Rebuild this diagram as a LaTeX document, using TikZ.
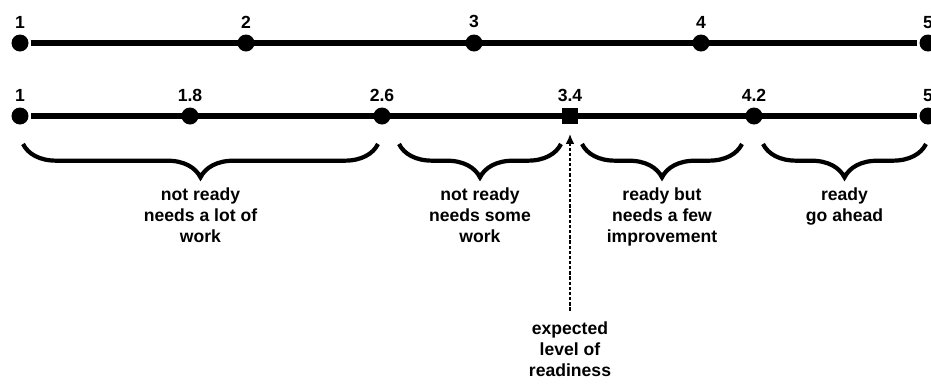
\documentclass[tikz,border=0pt]{standalone}
\usepackage{fontspec}
\setmainfont{Liberation Sans}
\usetikzlibrary{arrows.meta,
                decorations.pathreplacing,
                positioning}

\begin{document}
\begin{tikzpicture}[
    x=0.03cm, y=-0.03cm,
    line width=4.4pt,
    dot/.style = {circle, fill, inner sep=0pt, minimum size=0.51cm},
    sq/.style = {rectangle, fill, inner sep=0pt, minimum size=0.47cm},
    num/.style = {font=\bfseries\fontsize{15}{17}\selectfont, inner sep=1pt},
    brc/.style = {decorate, decoration={brace, mirror, amplitude=1cm}, line width=3.6pt},
    txt/.style = {font=\bfseries\fontsize{15}{17.9}\selectfont, align=center, inner sep=0pt},
    ]
    \useasboundingbox (0,0) rectangle (931,385);
    % full scale
    \foreach \v/\x in {1/20, 2/246, 3/474, 4/701, 5/928}
        \node[dot, label={[num]above:\v}] (t\v) at (\x,43) {};
    \draw (t1) -- (t5);
    % readiness scale
    \foreach \n/\v/\x in {1/1/20, 2/1.8/190, 3/2.6/382, 5/4.2/754, 6/5/928}
        \node[dot, label={[num]above:\v}] (b\n) at (\x,116) {};
    \node[sq, label={[num]above:3.4}] (b4) at (570,116) {};
    \draw (b1) -- (b6);
    % braces
    \foreach \i/\a/\b in {1/23/378, 2/399/561, 3/582/742, 4/763/926} {
        \coordinate (s\i) at (\a,144);
        \coordinate (e\i) at (\b,144);
        \draw[brc] (s\i) -- (e\i) coordinate[midway] (m\i);
    }
    % notes
    \node[txt, below=1.25cm of m1] (n1) {not ready\\needs a lot of\\work};
    \node[txt, below=1.25cm of m2] (n2) {not ready\\needs some\\work};
    \node[txt, below=1.25cm of m3] (n3) {ready but\\needs a few\\improvement};
    \node[txt, below=1.25cm of m4] (n4) {ready\\go ahead};
    \node[txt, anchor=north] (exp) at (570,319) {expected\\level of\\readiness};
    % arrow
    \draw[line width=2.4pt, dash pattern=on 2.8pt off 1.6pt,
          -{Latex[length=0.3cm, width=0.26cm]},
          shorten <=0.25cm, shorten >=0.22cm] (exp) -- (b4);
\end{tikzpicture}
\end{document}
